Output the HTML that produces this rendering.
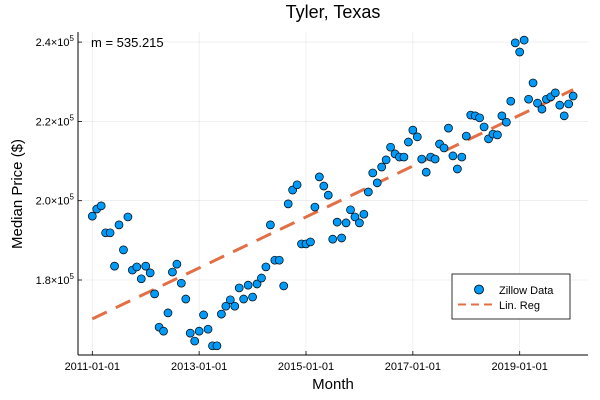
<!DOCTYPE html>
<html><head><meta charset="utf-8"><style>
body{margin:0;background:#fff;}
svg{display:block;font-family:"Liberation Sans","DejaVu Sans",sans-serif;}
</style></head><body>
<svg id="chart" width="600" height="400" viewBox="0 0 600 400">
<rect width="600" height="400" fill="#fff"/>
<g id="grid"></g>
<g id="axes"></g>
<g id="reg"></g>
<g id="pts"></g>
<text x="333" y="18" text-anchor="middle" font-size="18" fill="#000">Tyler, Texas</text>
<text x="333" y="389" text-anchor="middle" font-size="15" fill="#000">Month</text>
<text transform="translate(22,194) rotate(-90)" text-anchor="middle" font-size="15" fill="#000">Median Price ($)</text>
<text x="91" y="47" font-size="13" fill="#000">m = 535.215</text>
<g>
<rect x="452" y="274" width="118" height="45" fill="#fff" stroke="#000" stroke-width="0.8"/>
<circle cx="479" cy="289.5" r="4.5" fill="#009af9" stroke="#000" stroke-width="0.8"/>
<text x="499" y="294" font-size="11">Zillow Data</text>
<line x1="458" y1="304.5" x2="492" y2="304.5" stroke="#e26f46" stroke-width="2" stroke-dasharray="8,5"/>
<text x="499" y="309" font-size="11">Lin. Reg</text>
</g>
</svg>
<script>
const prices = [196100,197900,198700,191900,191900,183500,193900,187600,195900,182500,183300,180300,183500,181800,176500,168100,167100,171700,182000,184000,179200,175200,166600,164600,167100,171200,167600,163400,163400,171400,173400,175000,173400,178000,175200,178700,175700,179000,180500,183300,193900,185000,185000,178500,199200,202700,204000,189100,189100,189600,198400,206000,203700,201400,190300,194600,190600,194400,197700,195900,194400,196600,202200,207000,204500,208500,210300,213500,211800,211000,211000,214800,217800,216100,210500,207200,211000,210500,214300,213300,218300,211300,208000,211000,216300,221600,221400,220900,218600,215600,216800,216600,221400,219800,225100,239800,237500,240500,225600,229700,224600,223100,225600,226200,227200,224100,221400,224400,226400];
const regIntercept = [170200];
const regSlope = [535.215];
const yTicks = [180000,200000,220000,240000];
const yTickLabels = ["1.8","2.0","2.2","2.4"];
const xTicks = [0,24,48,72,96];
const xTickLabels = ["2011-01-01","2013-01-01","2015-01-01","2017-01-01","2019-01-01"];

const NS="http://www.w3.org/2000/svg";
const X0=78,X1=588,Y0=32,Y1=355;
function xs(m){return 92.3+m*4.452;}
function ys(v){return 280-(v-180000)/252.2;}
function mk(tag,attrs,parent){const e=document.createElementNS(NS,tag);for(const k in attrs)e.setAttribute(k,attrs[k]);parent.appendChild(e);return e;}
const grid=document.getElementById('grid'),axes=document.getElementById('axes');
yTicks.forEach((t,i)=>{
  const y=ys(t);
  const g=mk('line',{x1:X0,x2:X1,y1:y,y2:y,stroke:'#000','stroke-opacity':0.1,'stroke-width':0.6},grid);
  
  
  const tk=mk('line',{x1:X0,x2:X0+4,y1:y,y2:y,stroke:'#000','stroke-width':0.8},axes);
  
  
  const tx=mk('text',{x:74,y:y+4,'text-anchor':'end','font-size':11},axes);
  
  
  tx.textContent=yTickLabels[i]+'×10';
  const sp=mk('tspan',{dy:-5,'font-size':8},tx);sp.textContent='5';
});
xTicks.forEach((t,i)=>{
  const x=xs(t);
  const g=mk('line',{x1:x,x2:x,y1:Y0,y2:Y1,stroke:'#000','stroke-opacity':0.1,'stroke-width':0.6},grid);
  
  
  const tk=mk('line',{x1:x,x2:x,y1:Y1,y2:Y1-4,stroke:'#000','stroke-width':0.8},axes);
  
  
  const tx=mk('text',{x:x,y:370,'text-anchor':'middle','font-size':11},axes);
  
  
  tx.textContent=xTickLabels[i];
});
const ya=mk('line',{x1:X0,x2:X0,y1:Y0,y2:Y1,stroke:'#000','stroke-width':1},axes);


const xa=mk('line',{x1:X0,x2:X1,y1:Y1,y2:Y1,stroke:'#000','stroke-width':1},axes);


const n=prices.length-1;
const rl=mk('line',{x1:xs(0),y1:ys(regIntercept[0]),x2:xs(n),y2:ys(regIntercept[0]+regSlope[0]*n),stroke:'#e26f46','stroke-width':3,'stroke-dasharray':'16,10'},document.getElementById('reg'));


const pts=document.getElementById('pts');
prices.forEach((v,i)=>{
  const c=mk('circle',{cx:xs(i),cy:ys(v),r:4,fill:'#009af9',stroke:'#000','stroke-width':0.7},pts);
  
  
});
</script>
</body></html>
